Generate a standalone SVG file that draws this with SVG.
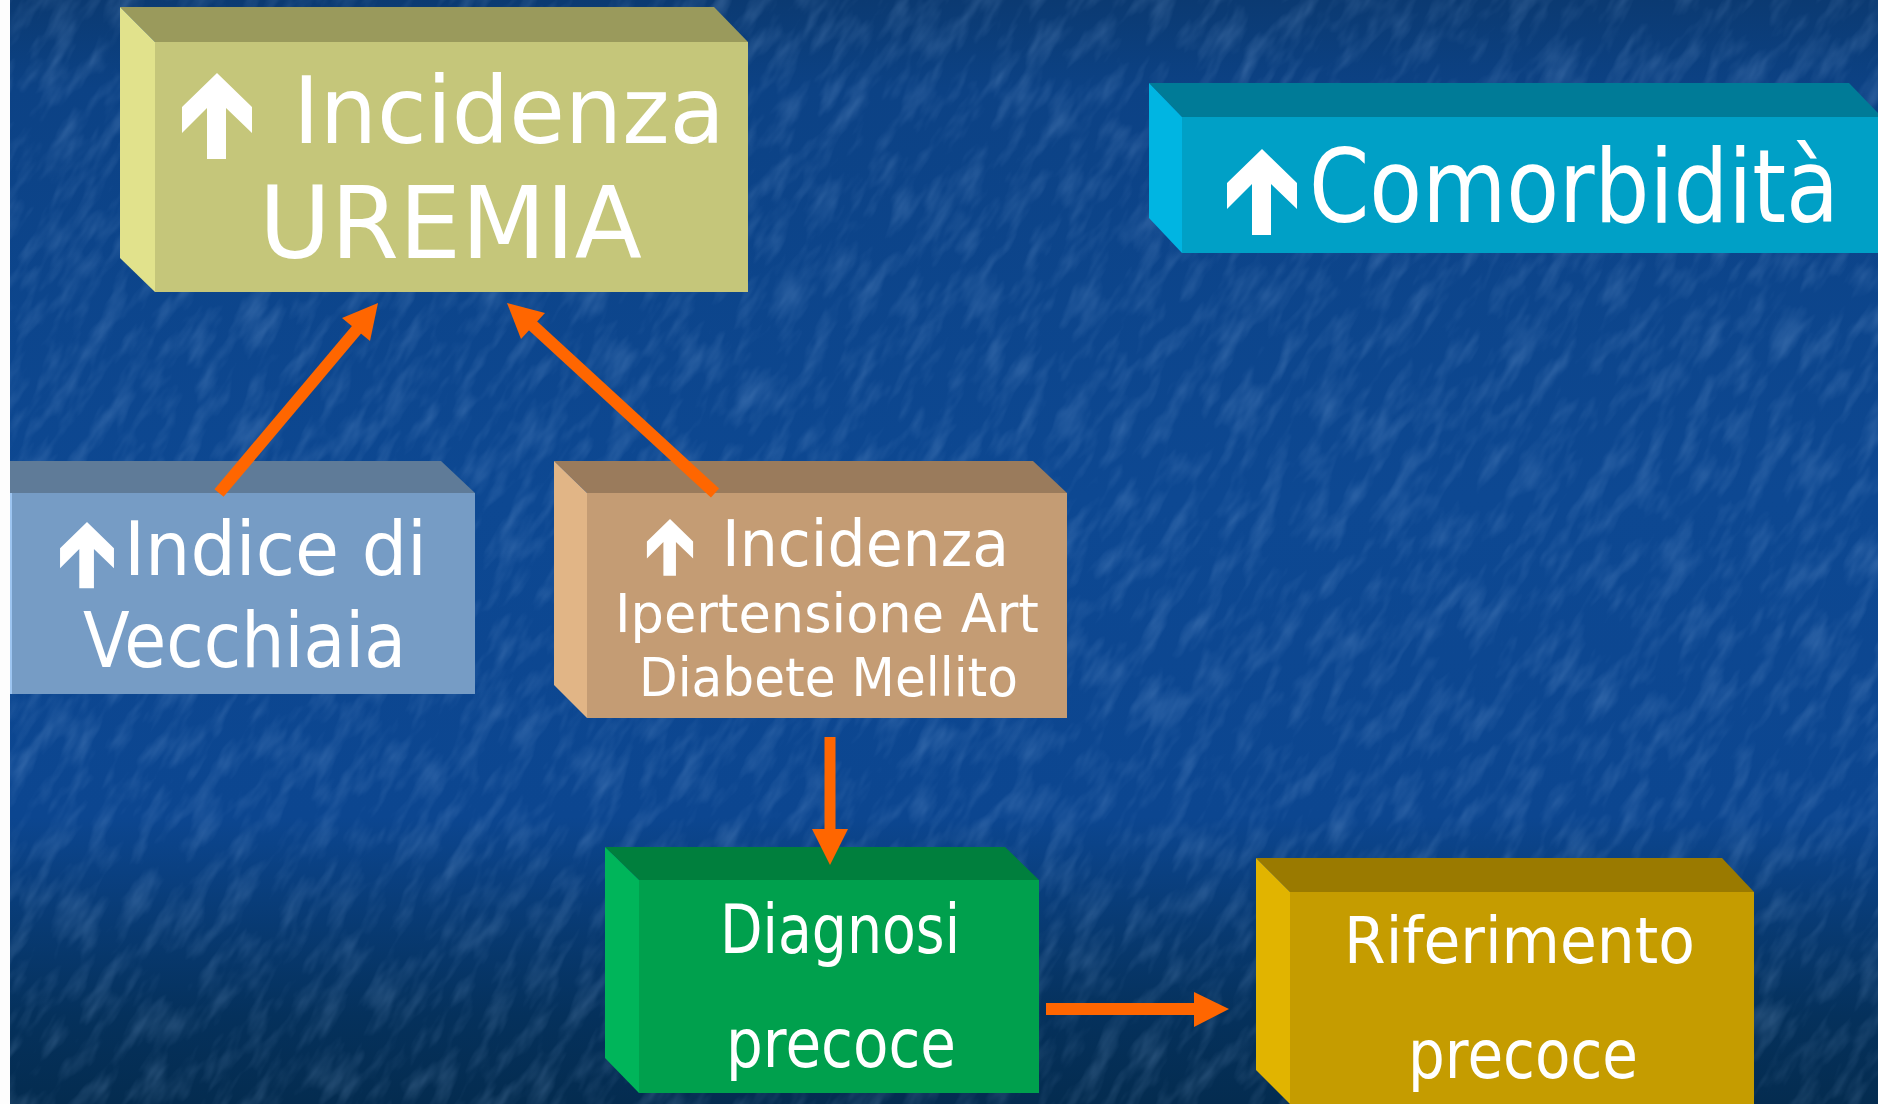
<svg xmlns="http://www.w3.org/2000/svg" width="1878" height="1104" viewBox="0 0 1878 1104">
  <style>
    .lbl { font-family: "DejaVu Sans", "Liberation Sans", sans-serif; fill: #ffffff; }
    .conn { stroke: #ff6600; fill: none; stroke-linecap: butt; }
    .head { fill: #ff6600; }
    .up { fill: #ffffff; }
  </style>
  <defs>
    <linearGradient id="bg" x1="0" y1="0" x2="0" y2="1">
      <stop offset="0" stop-color="#0b3a72"/>
      <stop offset="0.08" stop-color="#0c4285"/>
      <stop offset="0.45" stop-color="#0d4892"/>
      <stop offset="0.74" stop-color="#0c4690"/>
      <stop offset="0.84" stop-color="#083a72"/>
      <stop offset="0.92" stop-color="#05315c"/>
      <stop offset="1" stop-color="#042c50"/>
    </linearGradient>
    <filter id="tex" x="0" y="0" width="1" height="1">
      <feTurbulence type="fractalNoise" baseFrequency="0.02 0.06" numOctaves="3" seed="4"/>
      <feColorMatrix type="matrix" values="0 0 0 0 0.40  0 0 0 0 0.62  0 0 0 0 0.95  1.4 0 0 0 -0.62"/>
    </filter>
    <path id="uparrow" d="M0 0 L35 34 L35 60 L9 35 L9 86 L-10 86 L-10 35 L-35 60 L-35 34 Z"/>
  </defs>

  <g id="background">
    <rect x="0" y="0" width="1878" height="1104" fill="url(#bg)"/>
    <g transform="rotate(-58 939 552)" opacity="0.3">
      <rect x="-700" y="-700" width="3300" height="2500" filter="url(#tex)"/>
    </g>
    <rect x="0" y="0" width="10" height="1104" fill="#fdfdfd"/>
  </g>

  <g id="node-incidenza-uremia">
    <polygon points="120,7 714,7 748,42 155,42" fill="#9a9a5c"/>
    <polygon points="120,7 155,42 155,292 120,258" fill="#e1e28c"/>
    <rect x="155" y="42" width="593" height="250" fill="#c5c67a"/>
    <use href="#uparrow" class="up" x="217" y="73"/>
    <text class="lbl" x="293" y="143" font-size="93" textLength="432" lengthAdjust="spacingAndGlyphs">Incidenza</text>
    <text class="lbl" x="259" y="258" font-size="100" textLength="383" lengthAdjust="spacingAndGlyphs">UREMIA</text>
  </g>

  <g id="node-comorbidita">
    <polygon points="1149,83 1849,83 1878,113 1878,117 1182,117" fill="#007b97"/>
    <polygon points="1149,83 1182,117 1182,253 1149,218" fill="#00b5e2"/>
    <rect x="1182" y="117" width="696" height="136" fill="#00a0c6"/>
    <use href="#uparrow" class="up" x="1262" y="149"/>
    <text class="lbl" x="1309" y="222" font-size="101" textLength="530" lengthAdjust="spacingAndGlyphs">Comorbidità</text>
  </g>

  <g id="node-indice-vecchiaia">
    <polygon points="10,461 441,461 475,493 10,493" fill="#5f7b98"/>
    <rect x="10" y="493" width="465" height="201" fill="#769cc5"/>
    <rect x="10" y="493" width="2" height="201" fill="#9cc4f0"/>
    <use href="#uparrow" class="up" transform="translate(87 522) scale(0.77)"/>
    <text class="lbl" x="124" y="575" font-size="74" textLength="303" lengthAdjust="spacingAndGlyphs">Indice di</text>
    <text class="lbl" x="83" y="667" font-size="76" textLength="323" lengthAdjust="spacingAndGlyphs">Vecchiaia</text>
  </g>

  <g id="node-ipertensione-diabete">
    <polygon points="554,461 1033,461 1067,493 587,493" fill="#9a7b5c"/>
    <polygon points="554,461 587,493 587,718 554,685" fill="#e1b586"/>
    <rect x="587" y="493" width="480" height="225" fill="#c49c74"/>
    <use href="#uparrow" class="up" transform="translate(670 519) scale(0.66)"/>
    <text class="lbl" x="722" y="566" font-size="64" textLength="287" lengthAdjust="spacingAndGlyphs">Incidenza</text>
    <text class="lbl" x="615" y="632" font-size="54" textLength="424" lengthAdjust="spacingAndGlyphs">Ipertensione Art</text>
    <text class="lbl" x="639" y="696" font-size="54" textLength="379" lengthAdjust="spacingAndGlyphs">Diabete Mellito</text>
  </g>

  <g id="node-diagnosi-precoce">
    <polygon points="605,847 1005,847 1039,880 639,880" fill="#007f3d"/>
    <polygon points="605,847 639,880 639,1093 605,1058" fill="#00b55a"/>
    <rect x="639" y="880" width="400" height="213" fill="#00a04d"/>
    <text class="lbl" x="720" y="953" font-size="68" textLength="240" lengthAdjust="spacingAndGlyphs">Diagnosi</text>
    <text class="lbl" x="726" y="1067" font-size="68" textLength="230" lengthAdjust="spacingAndGlyphs">precoce</text>
  </g>

  <g id="node-riferimento-precoce">
    <polygon points="1256,858 1722,858 1754,892 1290,892" fill="#9a7a00"/>
    <polygon points="1256,858 1290,892 1290,1104 1256,1070" fill="#e1b400"/>
    <rect x="1290" y="892" width="464" height="212" fill="#c59c00"/>
    <text class="lbl" x="1344" y="963" font-size="64" textLength="351" lengthAdjust="spacingAndGlyphs">Riferimento</text>
    <text class="lbl" x="1408" y="1078" font-size="68" textLength="230" lengthAdjust="spacingAndGlyphs">precoce</text>
  </g>

  <g id="connectors">
    <line class="conn" x1="219" y1="493" x2="358" y2="328" stroke-width="12"/>
    <polygon class="head" points="378,303 342,318 370,341"/>
    <line class="conn" x1="715" y1="493" x2="531" y2="324" stroke-width="12"/>
    <polygon class="head" points="507,303 545,313 521,339"/>
    <line class="conn" x1="830" y1="737" x2="830" y2="831" stroke-width="11"/>
    <polygon class="head" points="812,829 848,829 830,865"/>
    <line class="conn" x1="1046" y1="1009" x2="1196" y2="1009" stroke-width="12"/>
    <polygon class="head" points="1194,992 1194,1027 1229,1009"/>
  </g>
</svg>
